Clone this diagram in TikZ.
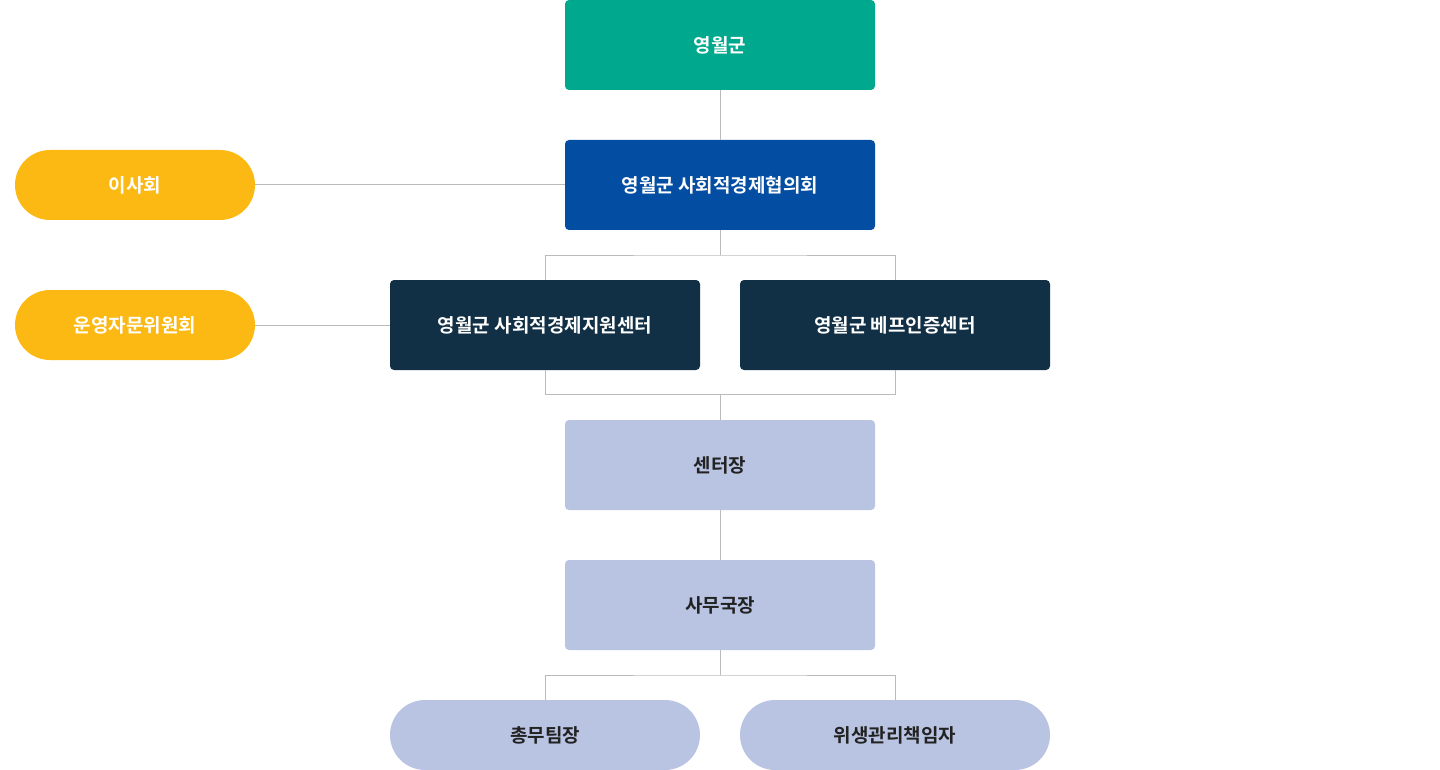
\documentclass[tikz,border=0pt]{standalone}
\usepackage{fontspec}
\newfontfamily\kr{Noto Sans CJK KR}[BoldFont={Noto Sans CJK KR Bold}]
\definecolor{teal}{HTML}{00A98E}
\definecolor{blu}{HTML}{034EA2}
\definecolor{yel}{HTML}{FDB913}
\definecolor{navy}{HTML}{123045}
\definecolor{lav}{HTML}{B9C3E2}
\definecolor{ln}{HTML}{BBBBBB}
\definecolor{dk}{HTML}{222222}
\begin{document}
\begin{tikzpicture}[x=1pt,y=-1pt,
  base/.style={inner sep=0pt, minimum width=310pt, minimum height=90pt, rounded corners=4pt,
    font=\kr\bfseries\fontsize{19}{21}\selectfont, text=white},
  rbox/.style={base},
  pill/.style={base, minimum height=70pt, rounded corners=35pt},
  conn/.style={draw=ln, line width=1pt}]
\useasboundingbox (0,0) rectangle (1440,770);
\node[rbox, fill=teal] (gun) at (720,45) {영월군};
\node[rbox, fill=blu] (hyeop) at (720,185) {영월군 사회적경제협의회};
\node[pill, fill=yel, minimum width=240pt] (isa) at (135,185) {이사회};
\node[pill, fill=yel, minimum width=240pt] (unyeong) at (135,325) {운영자문위원회};
\node[rbox, fill=navy] (jiwon) at (545,325) {영월군 사회적경제지원센터};
\node[rbox, fill=navy] (bepeu) at (895,325) {영월군 베프인증센터};
\node[rbox, fill=lav, text=dk] (center) at (720,465) {센터장};
\node[rbox, fill=lav, text=dk] (samu) at (720,605) {사무국장};
\node[pill, fill=lav, text=dk, minimum width=310pt] (chongmu) at (545,735) {총무팀장};
\node[pill, fill=lav, text=dk, minimum width=310pt] (wisaeng) at (895,735) {위생관리책임자};
\draw[conn] (gun.south) -- (hyeop.north);
\draw[conn] (isa.east) -- (isa.east -| hyeop.west);
\draw[conn] (unyeong.east) -- (jiwon.west);
\coordinate (b1) at (720,255);
\draw[conn] (hyeop.south) -- (b1);
\draw[conn] (jiwon.north) |- (b1) -| (bepeu.north);
\coordinate (b2) at (720,394.5);
\draw[conn] (jiwon.south) |- (b2) -| (bepeu.south);
\draw[conn] (b2) -- (center.north);
\draw[conn] (center.south) -- (samu.north);
\coordinate (b3) at (720,675);
\draw[conn] (samu.south) -- (b3);
\draw[conn] (chongmu.north) |- (b3) -| (wisaeng.north);
\end{tikzpicture}
\end{document}
